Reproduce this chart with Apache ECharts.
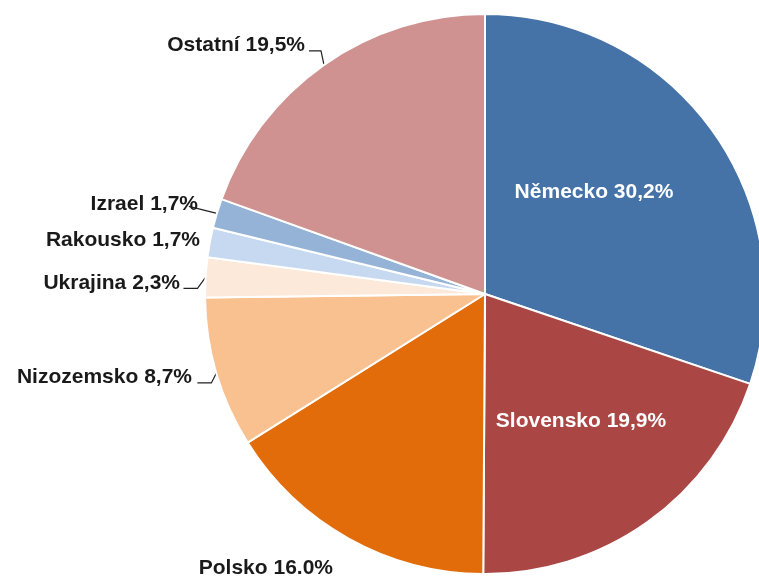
<!DOCTYPE html>
<html>
<head>
<meta charset="utf-8">
<script src="https://cdn.jsdelivr.net/npm/echarts@6/dist/echarts.min.js"></script>
<style>
  html, body { margin: 0; padding: 0; background: #fff; }
  #main { width: 759px; height: 576px; }
</style>
</head>
<body>
<div id="main"></div>
<script>
// podíly zemí (%)
const countries = ['Německo', 'Slovensko', 'Polsko', 'Nizozemsko', 'Ukrajina', 'Rakousko', 'Izrael', 'Ostatní'];
const shares = [30.2, 19.9, 16.0, 8.7, 2.3, 1.7, 1.7, 19.5];
const shareLabels = ['30,2%', '19,9%', '16.0%', '8,7%', '2,3%', '1,7%', '1,7%', '19,5%'];
const colors = ['#4572A7', '#AA4643', '#E36C0A', '#F9C090', '#FDE9D9', '#C6D9F1', '#95B3D7', '#D09191'];

// umístění popisků: x,y textu, zarovnání, lomení čáry relativně k okraji výseče
const spots = [
  { x: 594, y: 192, align: 'center', inside: true },
  { x: 581, y: 421, align: 'center', inside: true },
  { x: 333, y: 568, align: 'right' },
  { x: 192, y: 377, align: 'right', bend: [[-5, 10], [-19, 10]] },
  { x: 180, y: 283, align: 'right', bend: [[-8, 11], [-22, 11]] },
  { x: 200, y: 240, align: 'right' },
  { x: 198, y: 204, align: 'right', bend: [[-28, -7]] },
  { x: 305, y: 45, align: 'right', bend: [[-3, -14], [-15, -14]] }
];

const chart = echarts.init(document.getElementById('main'));

const data = countries.map((name, i) => ({
  name: name,
  value: shares[i],
  itemStyle: { color: colors[i] },
  label: spots[i].inside ? { color: '#fff' } : {},
  labelLine: { show: !!spots[i].bend }
}));

chart.setOption({
  backgroundColor: '#fff',
  animation: false,
  series: [{
    type: 'pie',
    center: [485, 294],
    radius: 280,
    startAngle: 90,
    clockwise: true,
    avoidLabelOverlap: false,
    itemStyle: { borderColor: '#fff', borderWidth: 2 },
    label: {
      show: true,
      position: 'outside',
      formatter: (p) => p.name + ' ' + shareLabels[p.dataIndex],
      fontFamily: 'Liberation Sans, Arial, sans-serif',
      fontWeight: 'bold',
      fontSize: 21,
      color: '#1a1a1a'
    },
    labelLine: {
      length: 8,
      length2: 8,
      lineStyle: { color: '#222', width: 1.2 }
    },
    labelLayout: function (params) {
      const s = spots[params.dataIndex];
      const out = { x: s.x, y: s.y, align: s.align, verticalAlign: 'middle' };
      if (s.bend && params.labelLinePoints) {
        const e = params.labelLinePoints[0];
        out.labelLinePoints = [e].concat(s.bend.map(b => [e[0] + b[0], e[1] + b[1]]));
      }
      return out;
    },
    data: data
  }]
});
</script>
</body>
</html>
